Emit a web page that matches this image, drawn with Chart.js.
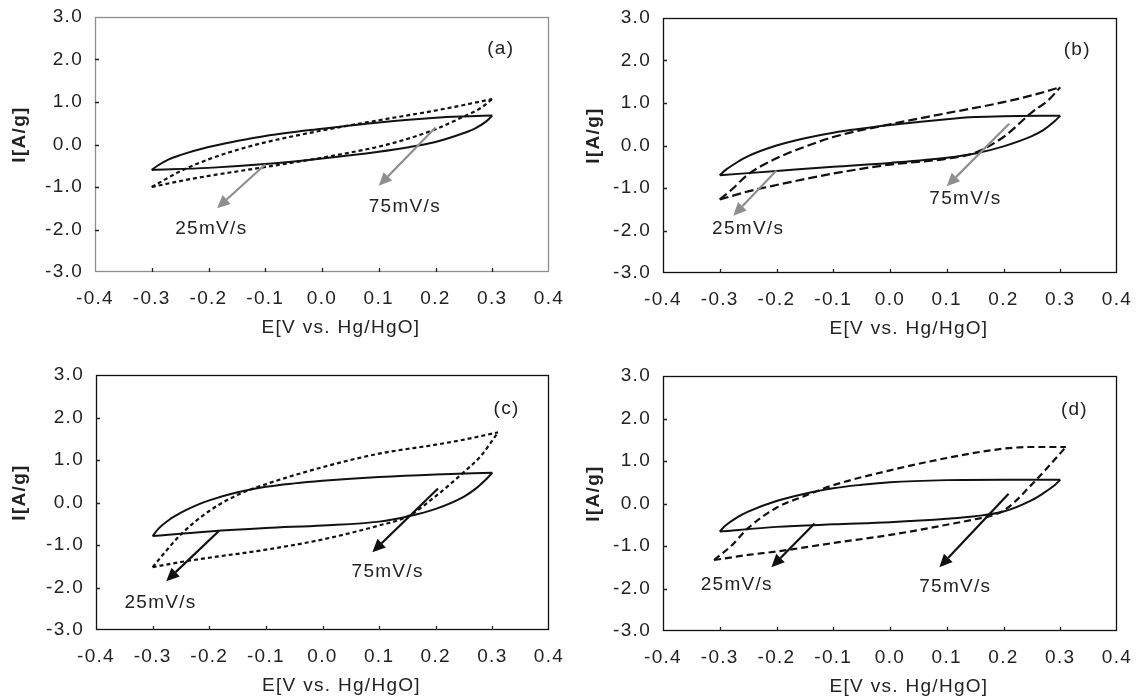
<!DOCTYPE html>
<html>
<head>
<meta charset="utf-8">
<script src="https://cdn.jsdelivr.net/npm/chart.js@4.4.0/dist/chart.umd.min.js"></script>
<style>
  body { margin: 0; background: #fff; width: 1146px; height: 699px; position: relative; overflow: hidden; }
  canvas { position: absolute; }
</style>
</head>
<body>
<canvas id="pa" width="573" height="350" style="left:0;top:0"></canvas>
<canvas id="pb" width="573" height="350" style="left:573px;top:0"></canvas>
<canvas id="pc" width="573" height="349" style="left:0;top:350px"></canvas>
<canvas id="pd" width="573" height="349" style="left:573px;top:350px"></canvas>
<script>
// axis ranges / ticks
const E_min = -0.4, E_max = 0.4, E_step = 0.1
const I_min = -3, I_max = 3, I_step = 1
const xTitle = 'E[V vs. Hg/HgO]'
const yTitle = 'I[A/g]'

// [E (V vs Hg/HgO), I (A/g)] -- forward (upper) and reverse (lower) sweep, listed by increasing E
// 25 mV/s = solid, 75 mV/s = dashed
const aSlowFwd = [[-0.30,-0.60],[-0.29,-0.50],[-0.27,-0.35],[-0.25,-0.25],[-0.20,-0.06],[-0.15,0.08],[-0.10,0.20],[0.00,0.37],[0.10,0.52],[0.20,0.63],[0.25,0.66],[0.30,0.68]]
const aSlowRev = [[-0.30,-0.60],[-0.20,-0.55],[-0.10,-0.46],[0.00,-0.33],[0.10,-0.17],[0.15,-0.07],[0.20,0.06],[0.25,0.27],[0.27,0.38],[0.29,0.55],[0.30,0.68]]
const aFastFwd = [[-0.30,-1.00],[-0.28,-0.85],[-0.25,-0.63],[-0.20,-0.35],[-0.15,-0.13],[-0.10,0.05],[0.00,0.33],[0.10,0.57],[0.20,0.80],[0.25,0.93],[0.30,1.07]]
const aFastRev = [[-0.30,-1.00],[-0.25,-0.86],[-0.20,-0.74],[-0.10,-0.53],[0.00,-0.31],[0.10,-0.05],[0.15,0.13],[0.20,0.36],[0.25,0.66],[0.28,0.86],[0.30,1.07]]

const bSlowFwd = [[-0.30,-0.70],[-0.29,-0.58],[-0.27,-0.40],[-0.25,-0.25],[-0.20,0.00],[-0.15,0.17],[-0.10,0.30],[0.00,0.48],[0.10,0.62],[0.15,0.67],[0.20,0.69],[0.30,0.70]]
const bSlowRev = [[-0.30,-0.70],[-0.20,-0.60],[-0.10,-0.50],[0.00,-0.41],[0.10,-0.29],[0.15,-0.19],[0.20,-0.02],[0.25,0.22],[0.27,0.36],[0.29,0.57],[0.30,0.70]]
const bFastFwd = [[-0.30,-1.27],[-0.28,-1.05],[-0.25,-0.68],[-0.20,-0.30],[-0.15,-0.03],[-0.10,0.20],[0.00,0.50],[0.10,0.76],[0.20,1.02],[0.25,1.18],[0.30,1.37]]
const bFastRev = [[-0.30,-1.27],[-0.25,-1.08],[-0.20,-0.93],[-0.10,-0.66],[0.00,-0.45],[0.10,-0.31],[0.15,-0.17],[0.20,0.20],[0.25,0.78],[0.28,1.08],[0.30,1.37]]

const cSlowFwd = [[-0.30,-0.79],[-0.29,-0.62],[-0.27,-0.40],[-0.25,-0.24],[-0.22,-0.05],[-0.20,0.05],[-0.15,0.24],[-0.10,0.37],[-0.05,0.45],[0.00,0.51],[0.10,0.60],[0.20,0.66],[0.30,0.70]]
const cSlowRev = [[-0.30,-0.79],[-0.20,-0.68],[-0.10,-0.60],[0.00,-0.54],[0.10,-0.45],[0.15,-0.33],[0.20,-0.15],[0.25,0.14],[0.27,0.32],[0.29,0.56],[0.30,0.70]]
const cFastFwd = [[-0.30,-1.52],[-0.28,-1.20],[-0.25,-0.75],[-0.20,-0.20],[-0.15,0.18],[-0.10,0.43],[0.00,0.83],[0.10,1.15],[0.20,1.36],[0.25,1.48],[0.31,1.65]]
const cFastRev = [[-0.30,-1.52],[-0.25,-1.40],[-0.20,-1.30],[-0.10,-1.11],[0.00,-0.87],[0.10,-0.54],[0.15,-0.33],[0.20,0.15],[0.25,0.72],[0.28,1.10],[0.31,1.65]]

const dSlowFwd = [[-0.30,-0.66],[-0.29,-0.52],[-0.27,-0.33],[-0.25,-0.19],[-0.20,0.06],[-0.15,0.23],[-0.10,0.36],[-0.05,0.44],[0.00,0.50],[0.10,0.55],[0.20,0.56],[0.30,0.56]]
const dSlowRev = [[-0.30,-0.66],[-0.20,-0.55],[-0.10,-0.49],[0.00,-0.44],[0.10,-0.36],[0.15,-0.30],[0.20,-0.19],[0.25,0.08],[0.27,0.24],[0.29,0.43],[0.30,0.56]]
const dFastFwd = [[-0.31,-1.33],[-0.28,-1.00],[-0.25,-0.58],[-0.20,-0.10],[-0.15,0.18],[-0.10,0.43],[0.00,0.78],[0.10,1.07],[0.20,1.29],[0.25,1.33],[0.31,1.33]]
const dFastRev = [[-0.31,-1.33],[-0.25,-1.21],[-0.20,-1.13],[-0.10,-0.93],[0.00,-0.74],[0.10,-0.50],[0.15,-0.37],[0.18,-0.28],[0.20,-0.17],[0.22,0.04],[0.25,0.45],[0.28,0.88],[0.31,1.33]]

// arrows: [E from, I from, E to, I to]
const aArrows = [[-0.10,-0.47,-0.185,-1.50],[0.20,0.40,0.10,-0.97]]
const bArrows = [[-0.20,-0.59,-0.276,-1.65],[0.21,0.51,0.10,-0.96]]
const cArrows = [[-0.183,-0.67,-0.276,-1.85],[0.204,0.33,0.088,-1.17]]
const dArrows = [[-0.133,-0.47,-0.209,-1.50],[0.209,0.23,0.087,-1.50]]

// text notes: [text, E, I]
const aNotes = [['25mV/s',-0.195,-1.98],['75mV/s',0.146,-1.47],['(a)',0.315,2.25]]
const bNotes = [['25mV/s',-0.25,-1.96],['75mV/s',0.133,-1.25],['(b)',0.33,2.25]]
const cNotes = [['25mV/s',-0.286,-2.35],['75mV/s',0.115,-1.64],['(c)',0.325,2.2]]
const dNotes = [['25mV/s',-0.27,-1.91],['75mV/s',0.115,-1.97],['(d)',0.325,2.2]]

const FONT = '"Liberation Sans", Arial, sans-serif'
const TEXT = '#222'
Chart.defaults.font.family = FONT
Chart.defaults.font.size = 19
Chart.defaults.color = TEXT

const pts = arr => arr.map(p => ({x: p[0], y: p[1]}))
const fmt = v => (Math.abs(v) < 1e-9 ? 0 : v).toFixed(1)

// frame, inward tick marks, axis titles, arrows and notes
const annotate = p => ({
	id: 'annotate',
	beforeDraw(chart) {
		chart.ctx.letterSpacing = '1.3px'
	},
	afterDatasetsDraw(chart) {
		const {ctx, chartArea: a, scales: {x, y}} = chart
		ctx.save()
		ctx.lineWidth = 1.3
		ctx.strokeStyle = p.frame
		ctx.strokeRect(a.left + 0.5, a.top + 0.5, a.width - 1, a.height - 1)

		ctx.strokeStyle = '#222'
		ctx.beginPath()
		x.ticks.forEach(t => {
			if (t.value <= x.min + 1e-9 || t.value >= x.max - 1e-9) return
			const px = Math.round(x.getPixelForValue(t.value)) + 0.5
			ctx.moveTo(px, a.bottom)
			ctx.lineTo(px, a.bottom - 4)
		})
		y.ticks.forEach(t => {
			if (t.value <= y.min || t.value >= y.max) return
			const py = Math.round(y.getPixelForValue(t.value)) + 0.5
			ctx.moveTo(a.left, py)
			ctx.lineTo(a.left + 4, py)
		})
		ctx.stroke()

		ctx.strokeStyle = p.arrowColor
		ctx.fillStyle = p.arrowColor
		ctx.lineWidth = 2.2
		p.arrows.forEach(([e0, i0, e1, i1]) => {
			const x0 = x.getPixelForValue(e0), y0 = y.getPixelForValue(i0)
			const x1 = x.getPixelForValue(e1), y1 = y.getPixelForValue(i1)
			const ang = Math.atan2(y1 - y0, x1 - x0)
			const hl = 13, hw = 6
			const bx = x1 - hl * Math.cos(ang), by = y1 - hl * Math.sin(ang)
			ctx.beginPath()
			ctx.moveTo(x0, y0)
			ctx.lineTo(bx, by)
			ctx.stroke()
			ctx.beginPath()
			ctx.moveTo(x1, y1)
			ctx.lineTo(bx + hw * Math.sin(ang), by - hw * Math.cos(ang))
			ctx.lineTo(bx - hw * Math.sin(ang), by + hw * Math.cos(ang))
			ctx.closePath()
			ctx.fill()
		})

		ctx.fillStyle = TEXT
		ctx.font = '19px ' + FONT
		ctx.textAlign = 'center'
		ctx.textBaseline = 'middle'
		p.notes.forEach(([txt, e, i]) => {
			ctx.fillText(txt, x.getPixelForValue(e), y.getPixelForValue(i))
		})

		// axis titles sit a little off the plot centre
		ctx.fillText(xTitle, (a.left + a.right) / 2 + 19, a.bottom + 56)
		ctx.font = 'bold 19px ' + FONT
		ctx.translate(p.yTitleX, (a.top + a.bottom) / 2 - 10)
		ctx.rotate(-Math.PI / 2)
		ctx.fillText(yTitle, 0, 0)
		ctx.restore()
	},
})

const panels = [
	{id: 'pa', slow: [aSlowFwd, aSlowRev], fast: [aFastFwd, aFastRev], dash: [4, 3], arrows: aArrows, notes: aNotes,
		frame: '#8e8e8e', arrowColor: '#8e8e8e', pad: {top: 17, right: 24}, yw: 95, xh: 78, yTitleX: 20},
	{id: 'pb', slow: [bSlowFwd, bSlowRev], fast: [bFastFwd, bFastRev], dash: [9, 4], arrows: bArrows, notes: bNotes,
		frame: '#111', arrowColor: '#8e8e8e', pad: {top: 18, right: 29}, yw: 90, xh: 77, yTitleX: 21},
	{id: 'pc', slow: [cSlowFwd, cSlowRev], fast: [cFastFwd, cFastRev], dash: [4, 3], arrows: cArrows, notes: cNotes,
		frame: '#111', arrowColor: '#111', pad: {top: 25, right: 24}, yw: 96, xh: 69, yTitleX: 20},
	{id: 'pd', slow: [dSlowFwd, dSlowRev], fast: [dFastFwd, dFastRev], dash: [7, 4], arrows: dArrows, notes: dNotes,
		frame: '#111', arrowColor: '#111', pad: {top: 26, right: 29}, yw: 90, xh: 68, yTitleX: 21},
]

panels.forEach(p => {
	const line = (arr, label, dash, width) => ({
		label: label,
		data: pts(arr),
		showLine: true,
		borderColor: '#111',
		borderWidth: width,
		borderDash: dash,
		pointRadius: 0,
		cubicInterpolationMode: 'monotone',
		fill: false,
	})
	new Chart(document.getElementById(p.id), {
		type: 'scatter',
		data: {
			datasets: [
				line(p.slow[0], '25mV/s', [], 2),
				line(p.slow[1], '25mV/s', [], 2),
				line(p.fast[0], '75mV/s', p.dash, 2.2),
				line(p.fast[1], '75mV/s', p.dash, 2.2),
			],
		},
		options: {
			responsive: false,
			animation: false,
			devicePixelRatio: 1,
			layout: {padding: {top: p.pad.top, right: p.pad.right, left: 0, bottom: 0}},
			plugins: {legend: {display: false}, tooltip: {enabled: false}},
			scales: {
				x: {
					type: 'linear',
					min: E_min,
					max: E_max,
					grid: {display: false, drawTicks: false},
					border: {display: false},
					ticks: {stepSize: E_step, padding: 15, callback: v => fmt(v), maxRotation: 0},
					afterFit(s) {
						s.height = p.xh
						s.paddingLeft = 0
						s.paddingRight = 0
					},
				},
				y: {
					type: 'linear',
					min: I_min,
					max: I_max,
					grid: {display: false, drawTicks: false},
					border: {display: false},
					ticks: {stepSize: I_step, padding: 12, callback: v => fmt(v)},
					afterFit(s) {
						s.width = p.yw
						s.paddingTop = 0
						s.paddingBottom = 0
					},
				},
			},
		},
		plugins: [annotate(p)],
	})
})
</script>
</body>
</html>
